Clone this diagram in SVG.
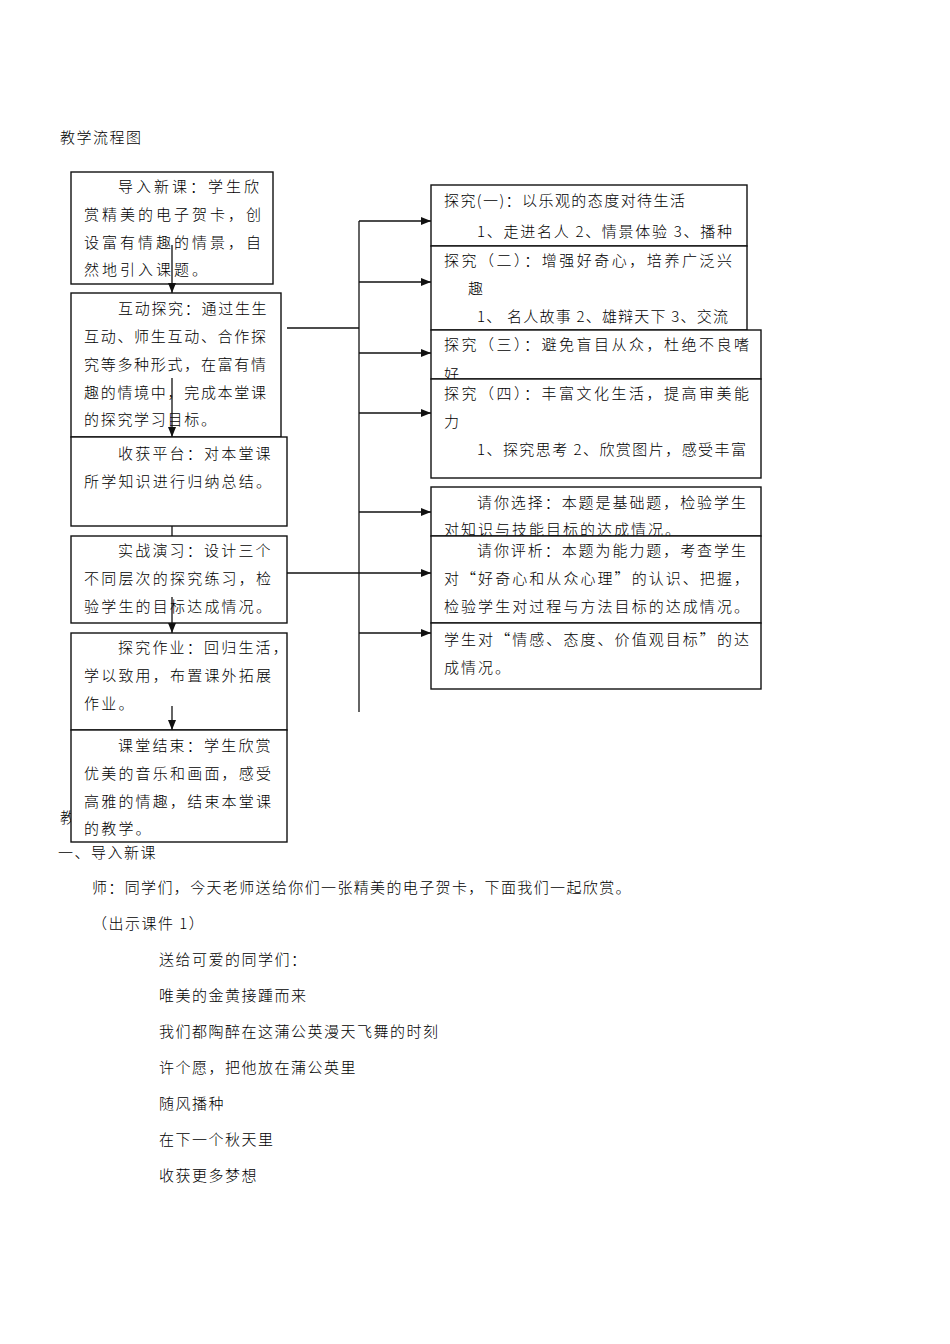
<svg xmlns="http://www.w3.org/2000/svg" width="950" height="1344" viewBox="0 0 950 1344">
<style>
text{font-family:"Noto Sans CJK SC","Liberation Serif",serif;font-size:15px;fill:#000;font-weight:300}
.box{fill:#fff;stroke:#111;stroke-width:1.4}
.b1 text{letter-spacing:3px}
.b2 text{letter-spacing:1.7px}
.b3 text{letter-spacing:2.2px}
.r text{letter-spacing:2px}
.body{letter-spacing:1.5px}
.con path{fill:none;stroke:#111;stroke-width:1.3}
</style>
<defs>
<marker id="ah" markerUnits="userSpaceOnUse" markerWidth="10" markerHeight="8" refX="10" refY="4" orient="auto">
<path d="M0,0 L10,4 L0,8 z" fill="#111"/>
</marker>
</defs>
<rect width="950" height="1344" fill="#fff"/>
<g id="bodytext" class="body">
<text class="body" x="60" y="143">教学流程图</text>
<text class="body" x="60" y="823">教</text>
<text class="body" x="58" y="858">一、导入新课</text>
<text class="body" x="92" y="893" textLength="540">师：同学们，今天老师送给你们一张精美的电子贺卡，下面我们一起欣赏。</text>
<text class="body" x="92" y="929">（出示课件 1）</text>
<text class="body" x="159" y="965">送给可爱的同学们：</text>
<text class="body" x="159" y="1001">唯美的金黄接踵而来</text>
<text class="body" x="159" y="1037">我们都陶醉在这蒲公英漫天飞舞的时刻</text>
<text class="body" x="159" y="1073">许个愿，把他放在蒲公英里</text>
<text class="body" x="159" y="1109">随风播种</text>
<text class="body" x="159" y="1145">在下一个秋天里</text>
<text class="body" x="159" y="1181">收获更多梦想</text>
</g>
<g id="n1" class="b1">
<rect class="box" x="71" y="172" width="202" height="112"/>
<text x="118" y="192">导入新课：学生欣</text>
<text x="84" y="220">赏精美的电子贺卡，创</text>
<text x="84" y="248">设富有情趣的情景，自</text>
<text x="84" y="275">然地引入课题。</text>
</g>
<g id="n2" class="b2">
<rect class="box" x="71" y="293" width="210" height="144"/>
<text x="118" y="314">互动探究：通过生生</text>
<text x="84" y="342">互动、师生互动、合作探</text>
<text x="84" y="370">究等多种形式，在富有情</text>
<text x="84" y="398">趣的情境中，完成本堂课</text>
<text x="84" y="425">的探究学习目标。</text>
</g>
<g id="n3" class="b3">
<rect class="box" x="71" y="437" width="216" height="89"/>
<text x="118" y="459">收获平台：对本堂课</text>
<text x="84" y="487">所学知识进行归纳总结。</text>
</g>
<g id="n4" class="b3">
<rect class="box" x="71" y="536" width="216" height="87"/>
<text x="118" y="556">实战演习：设计三个</text>
<text x="84" y="584">不同层次的探究练习，检</text>
<text x="84" y="612">验学生的目标达成情况。</text>
</g>
<g id="n5" class="b3">
<rect class="box" x="71" y="633" width="216" height="97"/>
<text x="118" y="653">探究作业：回归生活，</text>
<text x="84" y="681">学以致用，布置课外拓展</text>
<text x="84" y="709">作业。</text>
</g>
<g id="n6" class="b3">
<rect class="box" x="71" y="730" width="216" height="112"/>
<text x="118" y="751">课堂结束：学生欣赏</text>
<text x="84" y="779">优美的音乐和画面，感受</text>
<text x="84" y="807">高雅的情趣，结束本堂课</text>
<text x="84" y="834">的教学。</text>
</g>
<g id="r1" class="r">
<rect class="box" x="431" y="185" width="316" height="61"/>
<text x="444" y="206" textLength="243">探究(一)：以乐观的态度对待生活</text>
<text x="477" y="237" textLength="257">1、走进名人 2、情景体验 3、播种</text>
</g>
<g id="r2" class="r">
<rect class="box" x="431" y="246" width="316" height="84"/>
<text x="444" y="266" textLength="290">探究（二）：增强好奇心，培养广泛兴</text>
<text x="468" y="294">趣</text>
<text x="477" y="322" textLength="253">1、 名人故事 2、雄辩天下 3、交流</text>
</g>
<g id="r3" class="r">
<rect class="box" x="431" y="330" width="330" height="49"/>
<text x="444" y="350" textLength="307">探究（三）：避免盲目从众，杜绝不良嗜</text>
<text x="444" y="380">好</text>
</g>
<g id="r4" class="r">
<rect class="box" x="431" y="379" width="330" height="99"/>
<text x="444" y="399" textLength="307">探究（四）：丰富文化生活，提高审美能</text>
<text x="444" y="427">力</text>
<text x="477" y="455" textLength="271">1、探究思考 2、欣赏图片，感受丰富</text>
</g>
<g id="r5" class="r">
<rect class="box" x="431" y="487" width="330" height="49"/>
<text x="477" y="508" textLength="271">请你选择：本题是基础题，检验学生</text>
<text x="444" y="535">对知识与技能目标的达成情况。</text>
</g>
<g id="r6" class="r">
<rect class="box" x="431" y="536" width="330" height="87"/>
<text x="477" y="556" textLength="271">请你评析：本题为能力题，考查学生</text>
<text x="444" y="584" textLength="307">对“好奇心和从众心理”的认识、把握，</text>
<text x="444" y="612" textLength="307">检验学生对过程与方法目标的达成情况。</text>
</g>
<g id="r7" class="r">
<rect class="box" x="431" y="623" width="330" height="66"/>
<text x="444" y="645" textLength="307">学生对“情感、态度、价值观目标”的达</text>
<text x="444" y="673">成情况。</text>
</g>
<g id="connectors" class="con">
<path d="M172,245 V293" marker-end="url(#ah)"/>
<path d="M172,378 V437" marker-end="url(#ah)"/>
<path d="M172,526 V536"/>
<path d="M172,597 V633" marker-end="url(#ah)"/>
<path d="M172,706 V730" marker-end="url(#ah)"/>
<path d="M287,328 H359"/>
<path d="M359,221 V712"/>
<path d="M359,221 H431" marker-end="url(#ah)"/>
<path d="M359,282 H431" marker-end="url(#ah)"/>
<path d="M359,353 H431" marker-end="url(#ah)"/>
<path d="M359,413 H431" marker-end="url(#ah)"/>
<path d="M359,512 H431" marker-end="url(#ah)"/>
<path d="M287,573 H431" marker-end="url(#ah)"/>
<path d="M359,633 H431" marker-end="url(#ah)"/>
</g>
</svg>
